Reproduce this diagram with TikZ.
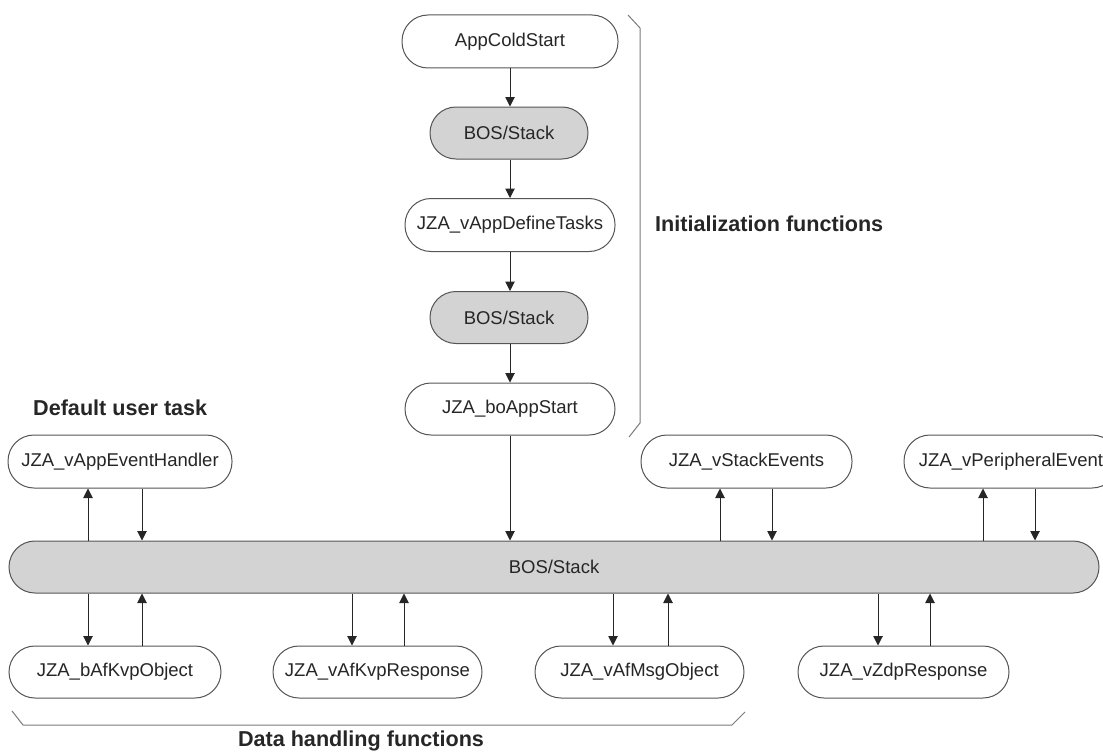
\documentclass[tikz,border=0pt]{standalone}
\usepackage{fontspec}
\setmainfont{Liberation Sans}
\usetikzlibrary{arrows.meta}

\definecolor{edgegray}{HTML}{555555}
\definecolor{stackfill}{HTML}{D3D3D3}
\definecolor{inkgray}{HTML}{262626}
\definecolor{bracegray}{HTML}{7A7A7A}

\tikzset{
  pill/.style={draw=edgegray, line width=1pt, fill=white, rounded corners=26pt,
    minimum height=53pt, inner sep=0pt, text=inkgray,
    font=\fontsize{18.5}{22}\selectfont},
  stackpill/.style={pill, fill=stackfill},
  flow/.style={draw=inkgray, line width=1pt, -{Triangle[length=9.5pt,width=9.5pt]}},
  brace/.style={draw=bracegray, line width=1pt},
  grouplabel/.style={text=inkgray, inner sep=0pt,
    font=\fontsize{21.6}{26}\bfseries\selectfont}
}

\begin{document}
\begin{tikzpicture}[x=1pt, y=-1pt]
  \useasboundingbox (0,0) rectangle (1103,752);
  \clip (0,0) rectangle (1103,752);

  % start-up chain
  \node[pill, minimum width=216pt] (cold) at (510,41.5) {AppColdStart};
  \node[stackpill, minimum width=158pt, minimum height=52pt] (bosA) at (509,133) {BOS/Stack};
  \node[pill, minimum width=210pt] (define) at (510,225) {JZA\_vAppDefineTasks};
  \node[stackpill, minimum width=158pt, minimum height=52pt] (bosB) at (509,317.5) {BOS/Stack};
  \node[pill, minimum width=210pt, minimum height=52pt] (start) at (510,409) {JZA\_boAppStart};

  % stack bar
  \node[stackpill, minimum width=1090pt, minimum height=52pt] (bar) at (554,567) {BOS/Stack};

  % upper callbacks
  \node[pill, minimum width=224pt] (handler) at (120,461.5) {JZA\_vAppEventHandler};
  \node[pill, minimum width=211pt] (stackev) at (746.5,461.5) {JZA\_vStackEvents};
  \node[pill, minimum width=214pt] (periph) at (1011,461.5) {JZA\_vPeripheralEvent};

  % lower callbacks
  \node[pill, minimum width=212pt, minimum height=52pt] (kvpobj) at (115,672) {JZA\_bAfKvpObject};
  \node[pill, minimum width=209pt, minimum height=52pt] (kvpresp) at (377.5,672) {JZA\_vAfKvpResponse};
  \node[pill, minimum width=209pt, minimum height=52pt] (msgobj) at (639.5,672) {JZA\_vAfMsgObject};
  \node[pill, minimum width=211pt, minimum height=52pt] (zdp) at (903.5,672) {JZA\_vZdpResponse};

  % chain arrows
  \draw[flow] (cold.south -| 510,0) -- (bosA.north -| 510,0);
  \draw[flow] (bosA.south -| 510,0) -- (define.north -| 510,0);
  \draw[flow] (define.south -| 510,0) -- (bosB.north -| 510,0);
  \draw[flow] (bosB.south -| 510,0) -- (start.north -| 510,0);
  \draw[flow] (start.south -| 510,0) -- (bar.north -| 510,0);

  % upper exchanges
  \draw[flow] (bar.north -| 88,0) -- (handler.south -| 88,0);
  \draw[flow] (handler.south -| 142,0) -- (bar.north -| 142,0);
  \draw[flow] (bar.north -| 720,0) -- (stackev.south -| 720,0);
  \draw[flow] (stackev.south -| 772,0) -- (bar.north -| 772,0);
  \draw[flow] (bar.north -| 983,0) -- (periph.south -| 983,0);
  \draw[flow] (periph.south -| 1035,0) -- (bar.north -| 1035,0);

  % lower exchanges
  \draw[flow] (bar.south -| 88,0) -- (kvpobj.north -| 88,0);
  \draw[flow] (kvpobj.north -| 142,0) -- (bar.south -| 142,0);
  \draw[flow] (bar.south -| 352,0) -- (kvpresp.north -| 352,0);
  \draw[flow] (kvpresp.north -| 404,0) -- (bar.south -| 404,0);
  \draw[flow] (bar.south -| 613,0) -- (msgobj.north -| 613,0);
  \draw[flow] (msgobj.north -| 668,0) -- (bar.south -| 668,0);
  \draw[flow] (bar.south -| 878,0) -- (zdp.north -| 878,0);
  \draw[flow] (zdp.north -| 930,0) -- (bar.south -| 930,0);

  % group brackets
  \draw[brace] (628,15) -- (640,28) -- (640,423) -- (629,437);
  \draw[brace] (12,711) -- (23,725) -- (732,725) -- (745,712);

  % group labels
  \node[grouplabel, anchor=west] (initlbl) at (655,224) {Initialization functions};
  \node[grouplabel, anchor=west] (userlbl) at (33,408) {Default user task};
  \node[grouplabel, anchor=base] (datalbl) at (361,746.5) {Data handling functions};
\end{tikzpicture}
\end{document}
